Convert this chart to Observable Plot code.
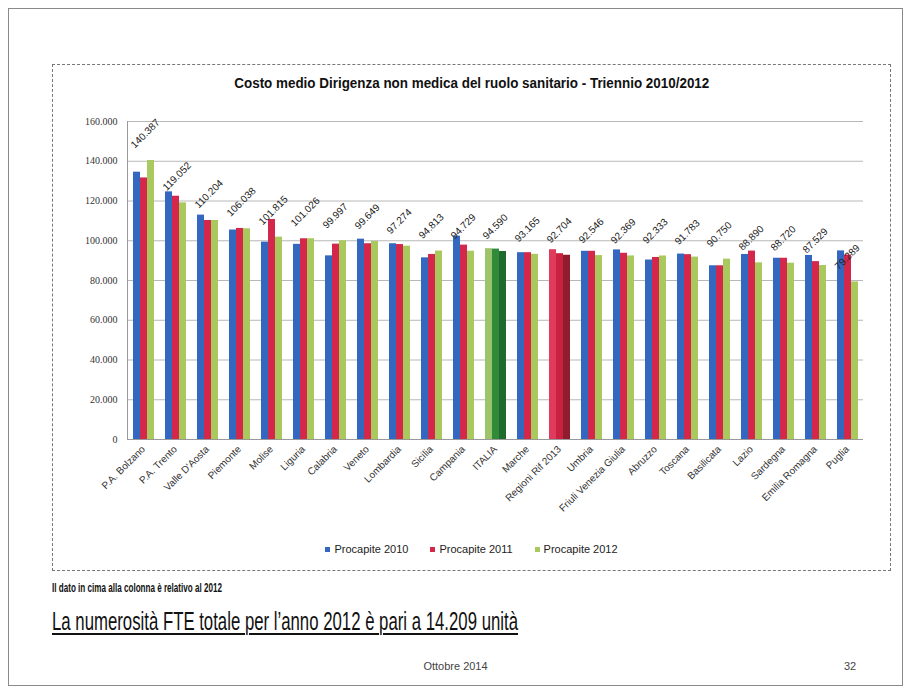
<!DOCTYPE html>
<html><head><meta charset="utf-8">
<script src="https://cdn.jsdelivr.net/npm/d3@7"></script>
<script src="https://cdn.jsdelivr.net/npm/@observablehq/plot@0.6"></script>
<style>
body{margin:0;background:#fff;font-family:"Liberation Sans Narrow","Liberation Sans",sans-serif;}
#page{position:relative;width:911px;height:694px;overflow:hidden;}
#frame{position:absolute;left:8px;top:8px;width:893px;height:676px;border:1px solid #8a8a8a;}
#box{position:absolute;left:52px;top:64px;width:837px;height:505px;border:1px dashed #777;}
#title{position:absolute;left:0;width:100%;top:9px;text-align:center;}
#title span{display:inline-block;font-weight:bold;font-size:14px;color:#111;white-space:nowrap;transform-origin:center;}
#chart{position:absolute;left:0;top:0;}
#legend{position:absolute;top:478px;left:0;width:100%;text-align:center;font-size:11px;color:#222;white-space:nowrap;}
#legend .it{display:inline-block;margin:0 11px;}
#legend .sw{display:inline-block;width:5px;height:5px;margin-right:4px;vertical-align:1px;}
.fit{position:absolute;white-space:nowrap;transform-origin:left center;}
#note{left:52px;top:581px;font-size:12px;font-weight:bold;color:#111;}
#big{left:52px;top:606px;font-size:26px;color:#111;text-decoration:underline;text-decoration-thickness:1.5px;text-underline-offset:3px;}
#foot{position:absolute;left:0;width:911px;top:660px;text-align:center;font-size:11px;color:#444;}
#pg{position:absolute;left:844px;top:660px;font-size:11px;color:#444;}
</style></head>
<body>
<div id="page">
  <div id="frame"></div>
  <div id="box">
    <div id="title"><span>Costo medio Dirigenza non medica del ruolo sanitario - Triennio 2010/2012</span></div>
    <div id="chart"></div>
    <div id="legend"></div>
  </div>
  <div id="note" class="fit" data-w="170">Il dato in cima alla colonna è relativo al 2012</div>
  <div id="big" class="fit" data-w="466">La numerosità FTE totale per l’anno 2012 è pari a 14.209 unità</div>
  <div id="foot">Ottobre 2014</div>
  <div id="pg">32</div>
</div>
<script>
const regions = ["P.A. Bolzano","P.A. Trento","Valle D'Aosta","Piemonte","Molise","Liguria","Calabria","Veneto","Lombardia","Sicilia","Campania","ITALIA","Marche","Regioni Rif 2013","Umbria","Friuli Venezia Giulia","Abruzzo","Toscana","Basilicata","Lazio","Sardegna","Emilia Romagna","Puglia"];
const seriesNames = ["Procapite 2010","Procapite 2011","Procapite 2012"];
const v2010 = [134500,124600,112900,105400,99300,98200,92400,100800,98500,91400,102300,96000,94000,95500,94700,95400,90300,93300,87400,93100,91200,92600,94900];
const v2011 = [131600,122400,110200,106200,110700,101000,98300,98500,98100,93100,97800,95800,94000,93500,94700,93700,91600,93000,87400,94800,91200,89500,92800];
const v2012 = [140387,119052,110204,106038,101815,101026,99997,99649,97274,94813,94729,94590,93165,92704,92546,92369,92333,91783,90750,88890,88720,87529,79289];
const yTicks = [0,20000,40000,60000,80000,100000,120000,140000,160000];
const seriesColors = ["#3468c0","#d3284c","#a9c95e"];
const italiaColors = ["#9cc46a","#2f8a3a","#1f6a2d"];
const regioniColors = ["#e03a5c","#c92240","#8f1d2d"];

const itFmt = d3.formatLocale({decimal:",", thousands:".", grouping:[3], currency:["€",""]}).format(",d");
const values = [v2010, v2011, v2012];
const data = [];
regions.forEach((r, i) => seriesNames.forEach((s, j) => {
  const pal = r === "ITALIA" ? italiaColors : r === "Regioni Rif 2013" ? regioniColors : seriesColors;
  data.push({region: r, series: s, value: values[j][i], color: pal[j]});
}));
const labels = regions.map((r, i) => ({region: r, value: v2012[i]}));

const font = '"Liberation Sans Narrow","Liberation Sans",sans-serif';
const chart = Plot.plot({
  width: 837, height: 470,
  marginLeft: 72, marginRight: 25, marginTop: 56, marginBottom: 96,
  style: {fontFamily: font, fontSize: "10px", color: "#333", background: "transparent"},
  fx: {domain: regions, padding: 0, label: null},
  x: {domain: seriesNames, paddingOuter: 0.7, paddingInner: 0, axis: null},
  y: {domain: [0, 160000], label: null},
  marks: [
    Plot.gridY(yTicks, {stroke: "#b8b8b8", strokeOpacity: 1}),
    Plot.axisY(yTicks, {tickSize: 0, tickPadding: 10, tickFormat: itFmt, fontSize: 10, fontFamily: '"Liberation Serif",serif', label: null}),
    Plot.axisFx({anchor: "bottom", tickRotate: -45, tickSize: 0, tickPadding: 8, label: null, fontSize: 10}),
    Plot.frame({anchor: "left", facetAnchor: "left", stroke: "#999"}),
    Plot.ruleY([0], {stroke: "#999"}),
    Plot.barY(data, {fx: "region", x: "series", y: "value", fill: "color"}),
    Plot.text(labels, {fx: "region", y: "value", text: d => itFmt(d.value), rotate: -45, textAnchor: "start", dx: -11, dy: -14, fontSize: 10, fill: "#222"})
  ]
});
document.getElementById("chart").appendChild(chart);

const legend = document.getElementById("legend");
seriesNames.forEach((s, j) => {
  const it = document.createElement("span");
  it.className = "it";
  it.innerHTML = `<span class="sw" style="background:${seriesColors[j]}"></span>${s}`;
  legend.appendChild(it);
});

function fit(el, w) {
  const cur = el.getBoundingClientRect().width;
  if (cur > 0) el.style.transform = `scaleX(${w / cur})`;
}
document.querySelectorAll(".fit").forEach(el => fit(el, +el.dataset.w));
fit(document.querySelector("#title span"), 475);
</script>
</body></html>
